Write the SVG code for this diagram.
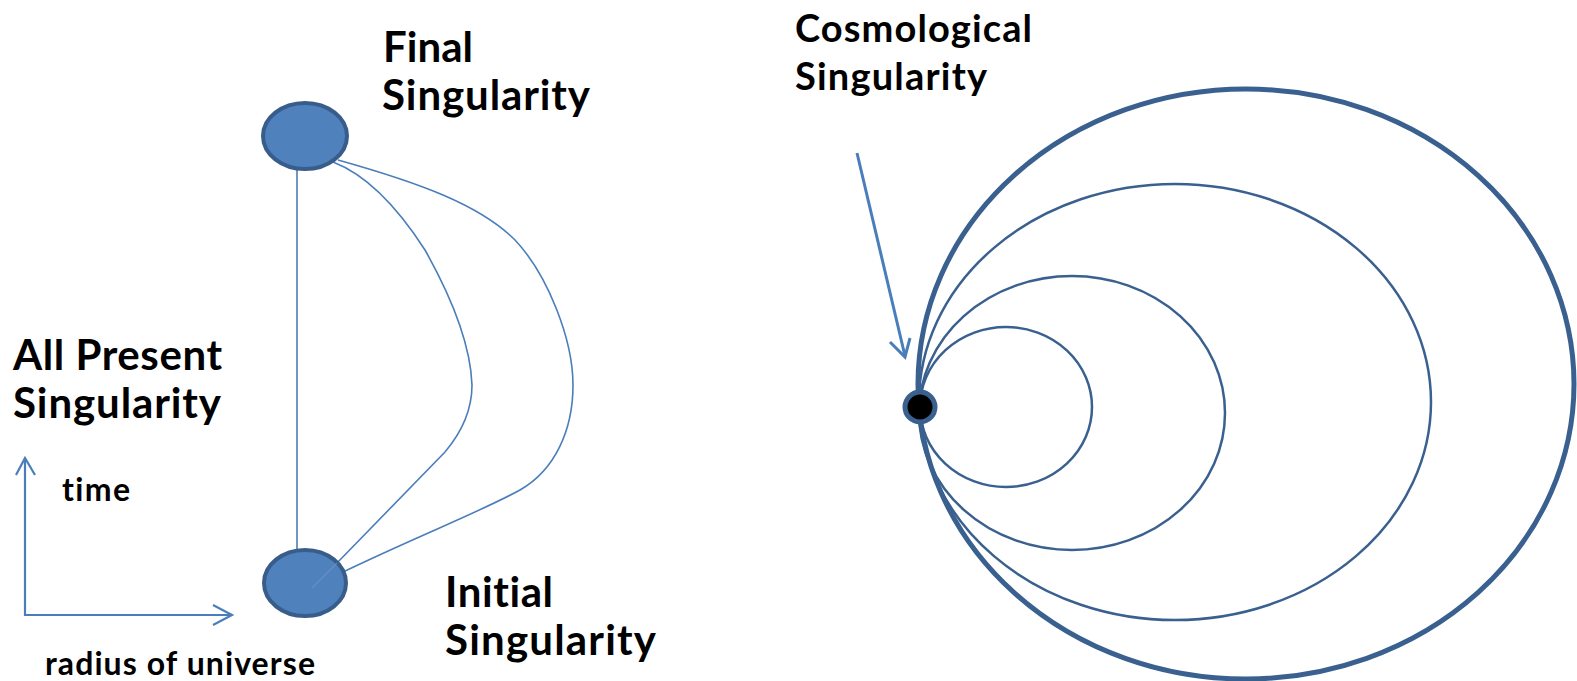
<svg xmlns="http://www.w3.org/2000/svg" width="1577" height="681" viewBox="0 0 1577 681">
<defs>
<style>
.lbl{font-family:Lato,"Liberation Sans",sans-serif;font-weight:bold;fill:#000;font-variant-ligatures:none}
.big{font-size:42px}
.med{font-size:38px}
.sm{font-size:32px}
.conn{fill:none;stroke:#4a7ebb;stroke-width:1.6}
.axis{fill:none;stroke:#4a7ebb;stroke-width:2.2}
.node{fill:#4f81bd;stroke:#385d8a;stroke-width:4}
.orbit{fill:none;stroke:#3a6090;stroke-width:2.5}
.outer{stroke-width:5}
</style>
</defs>
<rect width="1577" height="681" fill="#fff"/>
<g id="connectors">
<line class="conn" x1="297" y1="168" x2="297" y2="552"/>
<path class="conn" d="M333,162 Q380,180 425,250 Q470,330 472,385 Q472,420 445,452 L337,563"/>
<path class="conn" d="M338,160 C420,183 480,205 515,240 C548,275 573,340 573,385 C573,430 555,470 520,490 C480,512 420,535 343,572"/>
</g>
<g id="final-singularity">
<ellipse class="node" cx="305" cy="136" rx="42" ry="33"/>
<text class="lbl big" x="383" y="62" textLength="90">Final</text>
<text class="lbl big" x="382" y="110" textLength="208">Singularity</text>
</g>
<g id="initial-singularity">
<ellipse class="node" cx="305" cy="583" rx="41" ry="33"/>
<text class="lbl big" x="445" y="607" textLength="108">Initial</text>
<text class="lbl big" x="445" y="655" textLength="211">Singularity</text>
</g>
<g id="inner-faint">
<path d="M337,563 L312,588" fill="none" stroke="#6f9ad0" stroke-width="1.4" opacity="0.6"/>
</g>
<g id="all-present">
<text class="lbl big" x="13" y="370" textLength="209">All Present</text>
<text class="lbl big" x="13" y="418" textLength="208">Singularity</text>
</g>
<g id="axes">
<polyline class="axis" points="25,458 25,615 232,615"/>
<polyline class="axis" points="16,475 25,458 35,475"/>
<polyline class="axis" points="213,605 232,615 213,625"/>
<text class="lbl sm" x="62" y="501" textLength="68">time</text>
<text class="lbl sm" x="45" y="675" textLength="270">radius of universe</text>
</g>
<g id="universe">
<ellipse class="orbit" cx="1006" cy="407" rx="86" ry="80"/>
<ellipse class="orbit" cx="1072" cy="413" rx="153" ry="137"/>
<ellipse class="orbit" cx="1175" cy="402" rx="256" ry="218"/>
<ellipse class="orbit outer" cx="1246" cy="384" rx="328" ry="295"/>
</g>
<g id="cosmological-singularity">
<circle cx="920" cy="407" r="15" fill="#000" stroke="#3a6090" stroke-width="5"/>
<text class="lbl med" x="795" y="42" textLength="237">Cosmological</text>
<text class="lbl med" x="795" y="90" textLength="192">Singularity</text>
<line x1="857" y1="153" x2="905" y2="356" stroke="#4a7ebb" stroke-width="3"/>
<polyline points="890,342 905,357 910,338" fill="none" stroke="#4a7ebb" stroke-width="3"/>
</g>
</svg>
